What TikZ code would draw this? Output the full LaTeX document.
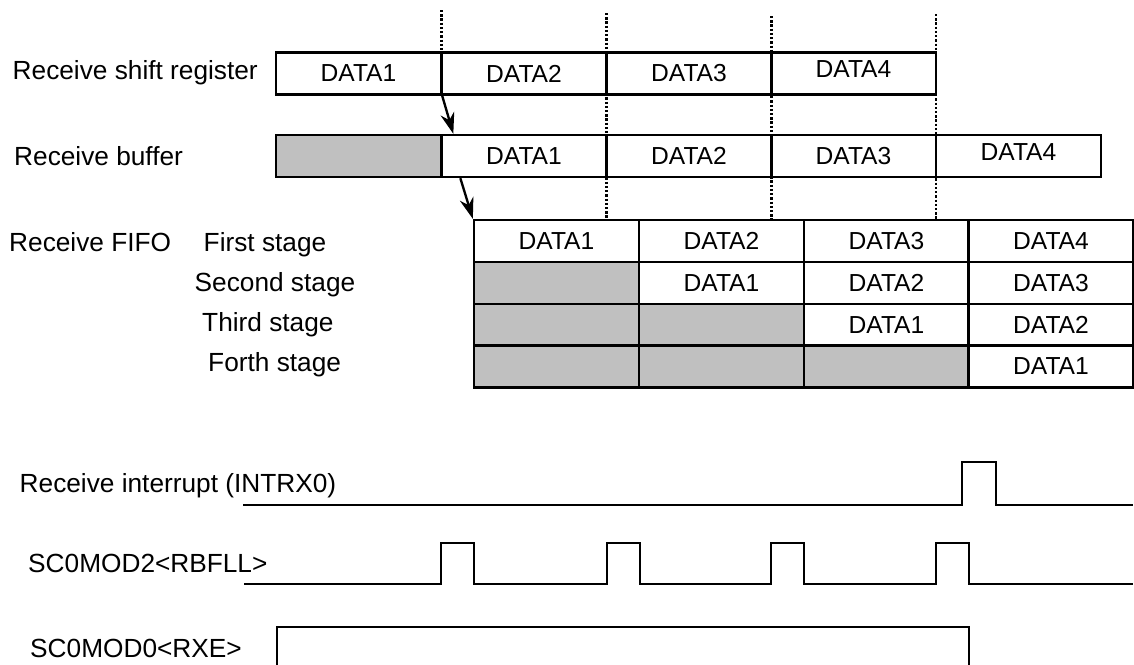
\documentclass[tikz,border=0pt]{standalone}
\usepackage{fontspec}
\setmainfont{Liberation Sans}
\usetikzlibrary{arrows.meta,calc}
\definecolor{cGray}{HTML}{C0C0C0}
\newcommand{\lblsize}{\fontsize{22.4pt}{26pt}\selectfont}
\newcommand{\datsize}{\fontsize{21pt}{25pt}\selectfont}

\begin{document}
\begin{tikzpicture}[x=0.03cm,y=-0.03cm,>=Stealth,
   cell/.style={draw,line width=2pt,minimum width=165*0.03cm,minimum height=42*0.03cm,
                inner sep=0pt,font=\datsize},
   graycell/.style={cell,fill=cGray},
   lbl/.style={anchor=base west,inner sep=0pt,font=\lblsize},
   dots/.style={line width=2pt,dash pattern=on 2pt off 1.6pt},
   wave/.style={line width=2pt},
   move/.style={line width=2pt,-{Stealth[length=18pt,width=12pt]}}]
  \useasboundingbox (0,0) rectangle (1134,665);
  % row labels
  \node[lbl] (lsr) at (12.5,79) {Receive shift register};
  \node[lbl] (lrb) at (14,165) {Receive buffer};
  \node[lbl] (lfifo) at (9,251.5) {Receive FIFO};
  \node[lbl] (lst1) at (203.5,251.5) {First stage};
  \node[lbl] (lst2) at (194.5,291) {Second stage};
  \node[lbl] (lst3) at (202,331) {Third stage};
  \node[lbl] (lst4) at (208,371) {Forth stage};
  % timing marks
  \draw[dots] (441.5,10) -- (441.5,53);
  \draw[dots] (606.5,13) -- (606.5,220);
  \draw[dots] (771.5,16) -- (771.5,220);
  \draw[dots] (936,14) -- (936,220);
  % receive shift register
  \node[cell] (sr1) at (358.5,73.5) {DATA1};
  \node[cell] (sr2) at (524,73.5)   {DATA2};
  \node[cell] (sr3) at (689,73.5)   {DATA3};
  \node[cell,text depth=8pt] (sr4) at (853.5,73.5) {DATA4};
  % receive buffer
  \node[graycell] (rb0) at (358.5,156) {};
  \node[cell] (rb1) at (524,156)    {DATA1};
  \node[cell] (rb2) at (689,156)    {DATA2};
  \node[cell] (rb3) at (853.5,156)  {DATA3};
  \node[cell,text depth=7pt] (rb4) at (1018.5,156) {DATA4};
  % receive FIFO
  \node[cell] (f11) at (556.5,241) {DATA1};
  \node[cell] (f12) at (721.5,241) {DATA2};
  \node[cell] (f13) at (886.5,241) {DATA3};
  \node[cell] (f14) at (1051,241)  {DATA4};
  \node[graycell] (f21) at (556.5,283) {};
  \node[cell] (f22) at (721.5,283) {DATA1};
  \node[cell] (f23) at (886.5,283) {DATA2};
  \node[cell] (f24) at (1051,283)  {DATA3};
  \node[graycell] (f31) at (556.5,325) {};
  \node[graycell] (f32) at (721.5,325) {};
  \node[cell] (f33) at (886.5,325) {DATA1};
  \node[cell] (f34) at (1051,325)  {DATA2};
  \node[graycell] (f41) at (556.5,366.5) {};
  \node[graycell] (f42) at (721.5,366.5) {};
  \node[graycell] (f43) at (886.5,366.5) {};
  \node[cell] (f44) at (1051,366.5) {DATA1};
  % transfers
  \draw[move] (sr1.south east) -- ($(rb1.north west)+(13,0)$);
  \draw[move] ($(rb1.south west)+(20,0)$) -- (f11.north west);
  % signals
  \node[lbl] (lint) at (19.5,492.5) {Receive interrupt (INTRX0)};
  \node[lbl] (lrbf) at (28,572) {SC0MOD2<RBFLL>};
  \node[lbl] (lrxe) at (30,657.5) {SC0MOD0<RXE>};
  \draw[wave] (243,505) -- (962,505) -- (962,462) -- (996,462) -- (996,505) -- (1133,505);
  \draw[wave] (244,584) -- (441,584) -- (441,543) -- (474,543) -- (474,584)
     -- (607,584) -- (607,543) -- (640,543) -- (640,584)
     -- (771,584) -- (771,543) -- (804,543) -- (804,584)
     -- (936,584) -- (936,543) -- (969,543) -- (969,584) -- (1133,584);
  \draw[wave,line width=2.4pt] (277,584) -- (309,584);
  \draw[wave] (277,665) -- (277,627) -- (969,627) -- (969,665);
\end{tikzpicture}
\end{document}
